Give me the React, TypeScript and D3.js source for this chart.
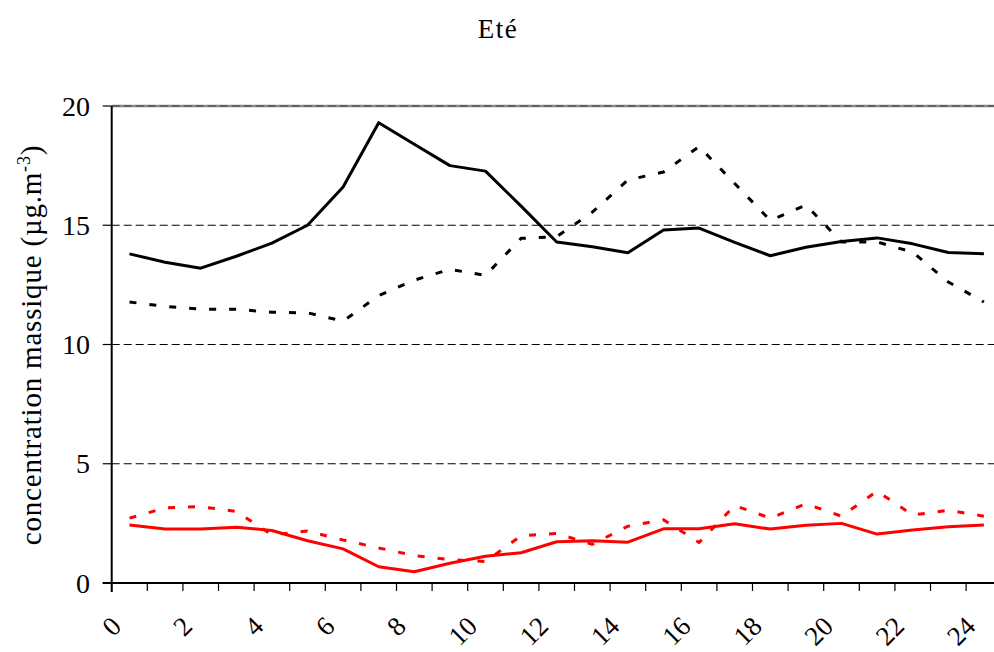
import React from "react";
import * as d3 from "d3";

const hours = [0.5, 1.5, 2.5, 3.5, 4.5, 5.5, 6.5, 7.5, 8.5, 9.5, 10.5, 11.5, 12.5, 13.5, 14.5, 15.5, 16.5, 17.5, 18.5, 19.5, 20.5, 21.5, 22.5, 23.5, 24.5];
const blackSolid = [13.8, 13.45, 13.2, 13.7, 14.25, 15.0, 16.6, 19.3, 18.4, 17.5, 17.27, 15.8, 14.3, 14.1, 13.85, 14.8, 14.88, 14.28, 13.72, 14.08, 14.32, 14.47, 14.22, 13.86, 13.8];
const blackDashed = [11.78, 11.6, 11.48, 11.48, 11.35, 11.33, 10.98, 12.05, 12.7, 13.15, 12.9, 14.45, 14.52, 15.55, 16.9, 17.23, 18.3, 16.75, 15.2, 15.85, 14.3, 14.3, 13.87, 12.62, 11.78];
const redSolid = [2.43, 2.26, 2.26, 2.34, 2.2, 1.77, 1.43, 0.68, 0.47, 0.83, 1.12, 1.27, 1.73, 1.77, 1.71, 2.27, 2.27, 2.48, 2.26, 2.42, 2.5, 2.05, 2.22, 2.36, 2.43];
const redDashed = [2.72, 3.15, 3.2, 3.0, 2.02, 2.18, 1.8, 1.47, 1.15, 0.98, 0.9, 1.98, 2.08, 1.62, 2.38, 2.65, 1.7, 3.25, 2.72, 3.32, 2.8, 3.85, 2.85, 3.05, 2.8];
const yTicks = [0, 5, 10, 15, 20];
const xTicks = d3.range(0, 26);
const xLabels = [0, 2, 4, 6, 8, 10, 12, 14, 16, 18, 20, 22, 24];
const title = "Eté";
const yLabel = "concentration massique (µg.m";
const yLabelSup = "-3";

const W = 994;
const H = 652;
const FONT = "'Liberation Serif', 'Times New Roman', serif";

export default function App() {
  const x = d3.scaleLinear().domain([0, 25]).range([111.7, 111.7 + 25 * 35.6]);
  const y = d3.scaleLinear().domain([0, 20]).range([583, 106]);
  const line = d3
    .line<number>()
    .x((_, i) => x(hours[i]))
    .y((d) => y(d));

  const series = [
    { data: redSolid, color: "#ff0000", dash: undefined },
    { data: redDashed, color: "#ff0000", dash: "7,13" },
    { data: blackSolid, color: "#000000", dash: undefined },
    { data: blackDashed, color: "#000000", dash: "7,13" },
  ];

  const x0 = x(0);
  const xEnd = W;

  return (
    <svg
      width={W}
      height={H}
      style={{ position: "absolute", left: 0, top: 0, background: "#fff" }}
      fontFamily={FONT}
    >
      <rect x={0} y={0} width={W} height={H} fill="#fff" />
      <text x={498} y={38} textAnchor="middle" fontSize={27} letterSpacing={1.5} fill="#000">
        {title}
      </text>

      {/* grid lines */}
      {yTicks
        .filter((t) => t > 0 && t < 20)
        .map((t) => (
          <line key={t} x1={x0} x2={xEnd} y1={y(t)} y2={y(t)} stroke="#000" strokeWidth={1} strokeDasharray="8,4" />
        ))}
      <line x1={x0} x2={xEnd} y1={y(20)} y2={y(20)} stroke="#8a8a8a" strokeWidth={2.5} />
      <line x1={x0} x2={xEnd} y1={y(20)} y2={y(20)} stroke="#555" strokeWidth={1.5} strokeDasharray="8,4" />

      {/* y ticks & labels */}
      {yTicks.map((t) => (
        <g key={t}>
          <line x1={x0 - 9} x2={x0} y1={y(t)} y2={y(t)} stroke="#000" strokeWidth={1.2} />
          <text x={90} y={y(t) + 9.5} textAnchor="end" fontSize={28} fill="#000">
            {t}
          </text>
        </g>
      ))}

      {/* x ticks */}
      {xTicks.map((t) => (
        <line key={t} x1={x(t)} x2={x(t)} y1={y(0)} y2={y(0) + 8} stroke="#000" strokeWidth={1.2} />
      ))}
      {xLabels.map((t) => (
        <text
          key={t}
          transform={`translate(${x(t) + 11},${628}) rotate(-45)`}
          textAnchor="end"
          fontSize={27}
          fill="#000"
        >
          {t}
        </text>
      ))}

      {/* axes */}
      <line x1={x0} x2={x0} y1={y(20)} y2={y(0) + 9} stroke="#000" strokeWidth={2} />
      <line x1={x0 - 9} x2={xEnd} y1={y(0)} y2={y(0)} stroke="#000" strokeWidth={2} />

      {/* series */}
      {series.map((s, i) => (
        <path
          key={i}
          d={line(s.data) || ""}
          fill="none"
          stroke={s.color}
          strokeWidth={3}
          strokeDasharray={s.dash}
          strokeLinejoin="round"
        />
      ))}

      {/* y label */}
      <text
        transform={`translate(41,345) rotate(-90)`}
        textAnchor="middle"
        fontSize={29}
        letterSpacing={0.8}
        fill="#000"
      >
        {yLabel}
        <tspan dy={-11} fontSize={18}>
          {yLabelSup}
        </tspan>
        <tspan dy={11}>)</tspan>
      </text>
    </svg>
  );
}
